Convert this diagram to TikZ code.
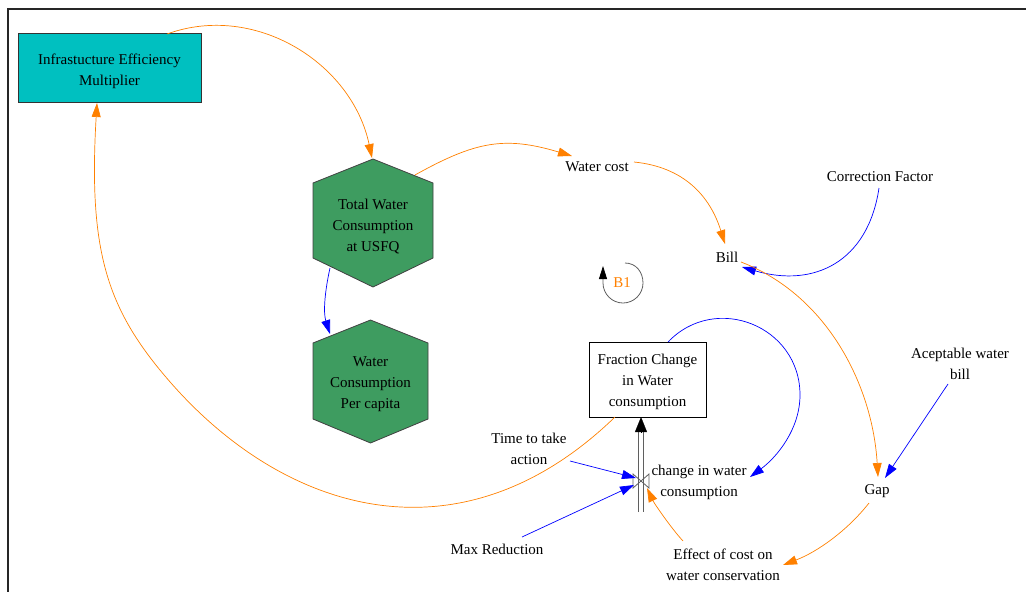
\documentclass[tikz,border=0pt]{standalone}
\usepackage{fontspec}
\setmainfont{Liberation Serif}
\usetikzlibrary{arrows.meta,backgrounds}
\definecolor{vorange}{RGB}{255,128,0}
\definecolor{vblue}{RGB}{0,0,255}
\definecolor{vcyan}{RGB}{0,192,192}
\definecolor{vgreen}{RGB}{62,156,96}
\definecolor{vgrey}{RGB}{95,95,95}
\begin{document}
\begin{tikzpicture}[x=1pt,y=-1pt,
  every node/.style={font=\fontsize{15}{21}\selectfont, align=center, inner sep=0pt},
  link/.style={line width=0.7pt},
  poslink/.style={link, color=vorange, -{Triangle[length=14pt,width=9pt]}},
  neglink/.style={link, color=vblue, -{Triangle[length=14pt,width=9pt]}},
  hexfill/.style={draw=black!75, fill=vgreen, line width=0.8pt},
  pipe/.style={draw=vgrey, double=white, double distance=4.5pt, line width=1.2pt},
  flowtip/.style={line width=0.2pt, -{Triangle[length=15pt,width=12pt]}, black},
  loopmark/.style={vgrey, line width=0.8pt, -{Triangle[length=13pt,width=8pt,color=black]}}
]
\useasboundingbox (0,0) rectangle (1026,592);

% frame
\draw[line width=2pt, black!85] (8,592) -- (8,9) -- (1026,9);

% variables
\node (infra) at (109.5,71) {Infrastucture Efficiency\\Multiplier};
\node (tot) at (373,226.5) {Total Water\\Consumption\\at USFQ};
\node (wcp) at (370.5,384.5) {Water\\Consumption\\Per capita};
\node (wc) at (597,167) {Water cost};
\node (bill) at (727,257) {Bill};
\node (cf) at (880,177) {Correction Factor};
\node (acc) at (960,364) {Aceptable water\\bill};
\node (gap) at (877,491) {Gap};
\node (fcw) at (647.5,382) {Fraction Change\\in Water\\consumption};
\node (chg) at (699,482) {change in water\\consumption};
\node (time) at (529,449) {Time to take\\action};
\node (maxr) at (497,549) {Max Reduction};
\node (eff) at (723,565) {Effect of cost on\\water conservation};
\node[minimum width=16pt, minimum height=14pt] (valve) at (641,481) {};
\node[text=vorange] (b1) at (622,283) {B1};

% box and hexagon outlines behind the text
\begin{scope}[on background layer]
  \path[draw=black!80, fill=vcyan, line width=0.8pt]
    ([shift={(-91.5,-38)}]infra.center) rectangle ([shift={(91.5,31)}]infra.center);
  \path[draw=black, fill=white, line width=0.9pt]
    ([shift={(-58.5,-40)}]fcw.center) rectangle ([shift={(58.5,35)}]fcw.center);
  \path[hexfill] ([shift={(0,-67.5)}]tot.center) -- ([shift={(60,-43.5)}]tot.center)
    -- ([shift={(60,31.5)}]tot.center) -- ([shift={(0,60.5)}]tot.center)
    -- ([shift={(-60,31.5)}]tot.center) -- ([shift={(-60,-43.5)}]tot.center) -- cycle;
  \path[hexfill] ([shift={(0,-64.5)}]wcp.center) -- ([shift={(57.5,-41.5)}]wcp.center)
    -- ([shift={(57.5,34.5)}]wcp.center) -- ([shift={(0,58.5)}]wcp.center)
    -- ([shift={(-57.5,34.5)}]wcp.center) -- ([shift={(-57.5,-41.5)}]wcp.center) -- cycle;
\end{scope}

% stock flow: pipe, valve and inflow arrow
\coordinate (src) at (641,512);
\draw[pipe] (src) -- ([shift={(-6.5,49)}]fcw.center);
\draw[flowtip] ([shift={(-6.5,50)}]fcw.center) -- ([shift={(-6.5,35)}]fcw.center);
\draw[vgrey, line width=0.8pt] ([shift={(-8,-7)}]valve.center) -- ([shift={(8,7)}]valve.center)
  -- ([shift={(8,-7)}]valve.center) -- ([shift={(-8,7)}]valve.center) -- cycle;

% causal links
\draw[poslink] ([shift={(57.5,-37)}]infra.center) .. controls (255,2) and (352,63) .. ([shift={(-1,-68.5)}]tot.center);
\draw[poslink] ([shift={(42,-51.5)}]tot.center) .. controls (476,141) and (505,136) .. ([shift={(-25,-11)}]wc.center);
\draw[poslink] ([shift={(37,-5)}]wc.center) .. controls (684,167) and (710,196) .. ([shift={(-2,-13)}]bill.center);
\draw[neglink] ([shift={(-1,11)}]cf.center) .. controls (868,262) and (814,288) .. ([shift={(15,10)}]bill.center);
\draw[poslink] ([shift={(14,5)}]bill.center) .. controls (827,295) and (872.5,385) .. ([shift={(1,-14)}]gap.center);
\draw[neglink] ([shift={(-12,20)}]acc.center) -- ([shift={(8,-13)}]gap.center);
\draw[poslink] ([shift={(-8,12)}]gap.center) .. controls (847,531) and (817,552) .. ([shift={(60,0)}]eff.center);
\draw[poslink] ([shift={(-40,-24)}]eff.center) .. controls (671,528) and (654,503) .. ([shift={(6,7)}]valve.center);
\draw[neglink] ([shift={(20.5,-40)}]fcw.center) .. controls (715.6,292.3) and (800,326) .. (800,395)
  .. controls (800,429) and (777,457) .. ([shift={(51,-5)}]chg.center);
\draw[neglink] ([shift={(41,12)}]time.center) -- ([shift={(-5,-3)}]valve.center);
\draw[neglink] ([shift={(25,-12)}]maxr.center) -- ([shift={(-7,4)}]valve.center);
\draw[poslink] ([shift={(-32.5,35)}]fcw.center) .. controls (462,565) and (287,515) .. (171,383)
  .. controls (108,311) and (88,254) .. ([shift={(-12.5,32)}]infra.center);
\draw[neglink] ([shift={(-43,41.5)}]tot.center) .. controls (325,290.5) and (323,312) .. ([shift={(-40.5,-50.5)}]wcp.center);

% loop marker
\draw[loopmark] (625,263) .. controls (636,263) and (643,272) .. (643,283)
  .. controls (643,294) and (634,303) .. (623,303)
  .. controls (612,303) and (603,294) .. (603,283) -- (603,266);
\end{tikzpicture}
\end{document}
